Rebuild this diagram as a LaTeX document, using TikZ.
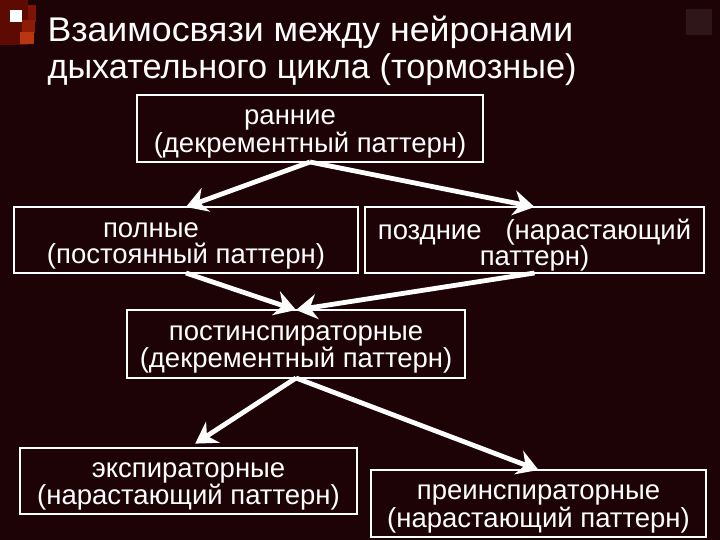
\documentclass[tikz,border=0pt]{standalone}
\usepackage{fontspec}
\setmainfont{Liberation Sans}
\usetikzlibrary{arrows.meta, positioning}

\definecolor{slidebg}{RGB}{30,3,6}
\definecolor{deco1}{RGB}{92,10,2}
\definecolor{deco2}{RGB}{125,18,6}
\definecolor{deco3}{RGB}{140,28,6}
\definecolor{deco4}{RGB}{185,55,16}

\begin{document}
\begin{tikzpicture}[
    x=1pt, y=-1pt,
    every node/.style={text=white},
    neuron/.style={rectangle, draw=white, line width=1.2pt, inner sep=0pt, outer sep=0pt},
    caption/.style={align=center, inner sep=0pt, yshift=-5.5pt,
        font=\fontsize{27.5}{26}\selectfont},
    arrow/.style={-{Stealth[length=21pt, width=25pt, inset=7pt]}, white, line width=4.8pt},
    heading/.style={font=\fontsize{34.3}{37}\selectfont, align=left}
]

% ============ BACKGROUND ============
\fill[slidebg] (0,0) rectangle (720,540);
\useasboundingbox (0,0) rectangle (720,540);

% corner squares
\fill[deco1] (0,0) rectangle (28,45);
\fill[deco2] (28,5) rectangle (36,22);
\fill[white] (10,10) rectangle (22,22);
\fill[deco3] (22,20) rectangle (35,33);
\fill[deco4] (20,32) rectangle (34,44);
\fill[white, opacity=0.08] (686,9) rectangle (712,35);

% ============ TITLE ============
\node[heading, anchor=base west] (title) at (44,79)
    {\scalebox{1.04}[1]{Взаимосвязи между нейронами}\\дыхательного цикла (тормозные)};

% ============ NEURON GROUPS ============
\node[neuron, minimum width=346pt, minimum height=67pt,
    label={[caption]center:{ранние\hspace*{40pt}\\(декрементный паттерн)}}] (early) at (310,128.5) {};
\node[neuron, minimum width=344pt, minimum height=66pt,
    label={[caption]center:{полные\hspace*{70pt}\\(постоянный паттерн)}}] (full) at (186,240) {};
\node[neuron, minimum width=339pt, minimum height=66pt,
    label={[caption]center:{поздние\hspace*{24pt}(нарастающий\\паттерн)}}] (late) at (534.5,240) {};
\node[neuron, minimum width=338pt, minimum height=68pt,
    label={[caption]center:{постинспираторные\\(декрементный паттерн)}}] (postinsp) at (296,344) {};
\node[neuron, minimum width=337pt, minimum height=66pt,
    label={[caption]center:{экспираторные\\(нарастающий паттерн)}}] (expir) at (188.5,481) {};
\node[neuron, minimum width=335pt, minimum height=67pt,
    label={[caption]center:{преинспираторные\\(нарастающий паттерн)}}] (preinsp) at (538.5,503.5) {};

% ============ CONNECTIONS ============
\draw[arrow] (early.south) -- (full.north);
\draw[arrow] (early.south) -- (late.north);
\draw[arrow] (full.south) -- (postinsp.north);
\draw[arrow] (late.south) -- (postinsp.north);
\draw[arrow, shorten >=8pt] (postinsp.south) -- (expir.north);
\draw[arrow] (postinsp.south) -- (preinsp.north);

\end{tikzpicture}
\end{document}
